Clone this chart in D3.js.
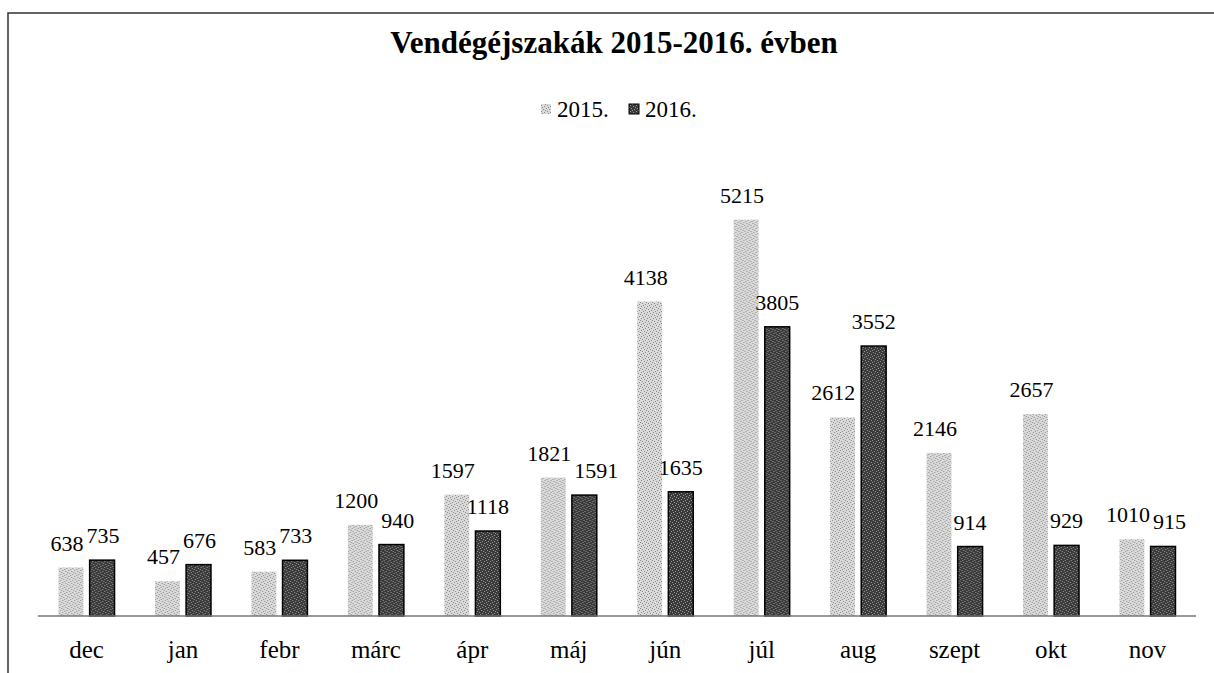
<!DOCTYPE html>
<html>
<head>
<meta charset="utf-8">
<script src="https://cdn.jsdelivr.net/npm/d3@7"></script>
<style>
  body { margin: 0; background: #fff; }
  svg { display: block; }
  text { font-family: "Liberation Serif", "Times New Roman", serif; fill: #000; }
</style>
</head>
<body>
<svg width="1214" height="673"></svg>
<script>
const months = ["dec", "jan", "febr", "márc", "ápr", "máj", "jún", "júl", "aug", "szept", "okt", "nov"];
const seriesNames = ["2015.", "2016."];
const values2015 = [638, 457, 583, 1200, 1597, 1821, 4138, 5215, 2612, 2146, 2657, 1010];
const values2016 = [735, 676, 733, 940, 1118, 1591, 1635, 3805, 3552, 914, 929, 915];

const svg = d3.select("svg"),
      baseY = 616;

const data = months.map((m, i) => ({month: m, values: [values2015[i], values2016[i]]}));

// frame (scan shows only top + left edges)
svg.append("path")
   .attr("d", "M8,673 V13 H1214")
   .attr("fill", "none")
   .attr("stroke", "#333")
   .attr("stroke-width", 1.5);

// speckled fills, like the printed chart
const defs = svg.append("defs");
function speckle(id, bg, dots, dotColor) {
  const p = defs.append("pattern")
                .attr("id", id)
                .attr("patternUnits", "userSpaceOnUse")
                .attr("width", 6).attr("height", 6);
  p.append("rect").attr("width", 6).attr("height", 6).attr("fill", bg);
  dots.forEach(d => p.append("rect")
                      .attr("x", d[0]).attr("y", d[1])
                      .attr("width", 1).attr("height", 1)
                      .attr("fill", dotColor));
}
speckle("p2015", "#dadada", [[0,0],[3,1],[1,3],[4,4],[2,5],[5,2]], "#8a8a8a");
speckle("p2016", "#3a3a3a", [[1,0],[4,1],[0,3],[3,4],[5,5],[2,2]], "#9a9a9a");
const fills = ["url(#p2015)", "url(#p2016)"];

const x0 = d3.scaleBand().domain(months).range([38.3, 1195.7]);
const x1 = d3.scaleBand().domain([0, 1]).range([x0.bandwidth() / 2 - 28, x0.bandwidth() / 2 + 28]).paddingInner(0.2);
const y = d3.scaleLinear().domain([0, 6000]).range([baseY, 160]);

// title
svg.append("text")
   .attr("x", 614).attr("y", 53)
   .attr("text-anchor", "middle")
   .attr("font-size", 31).attr("font-weight", "bold")
   .text("Vendégéjszakák 2015-2016. évben");

// legend
const legend = svg.append("g");
const legendX = [541, 629];
seriesNames.forEach((s, i) => {
  legend.append("rect")
        .attr("x", legendX[i]).attr("y", 104)
        .attr("width", 10).attr("height", 10)
        .attr("fill", fills[i])
        .attr("stroke", i === 1 ? "#000" : "none");
  legend.append("text")
        .attr("x", legendX[i] + 16).attr("y", 117)
        .attr("font-size", 23)
        .text(s);
});

// bars
const groups = svg.selectAll(".month")
                  .data(data)
                  .enter().append("g")
                  .attr("class", "month")
                  .attr("transform", d => `translate(${x0(d.month)},0)`);

groups.selectAll("rect")
      .data(d => d.values.map((v, i) => ({i, v})))
      .enter().append("rect")
      .attr("x", d => x1(d.i))
      .attr("width", x1.bandwidth())
      .attr("y", d => y(d.v))
      .attr("height", d => baseY - y(d.v))
      .attr("fill", d => fills[d.i])
      .attr("stroke", d => d.i === 1 ? "#000" : "none")
      .attr("stroke-width", 1.5);

groups.selectAll(".lbl")
      .data(d => d.values.map((v, i) => ({i, v})))
      .enter().append("text")
      .attr("class", "lbl")
      .attr("x", d => x1(d.i) + x1.bandwidth() / 2 - (d.i === 0 ? 4 : 0))
      .attr("y", d => y(d.v) - 17)
      .attr("text-anchor", "middle")
      .attr("font-size", 22)
      .text(d => d.v);

groups.each(function(d) {
  const lbls = d3.select(this).selectAll(".lbl").nodes();
  const l0 = d3.select(lbls[0]), l1 = d3.select(lbls[1]);
  // 2015 label sitting beside a taller 2016 bar: slide it left off the bar
  const a0 = lbls[0].getBBox(), clear = x1(1) - 6;
  if (y(d.values[1]) < a0.y + a0.height && a0.x + a0.width > clear) {
    l0.attr("x", +l0.attr("x") - (a0.x + a0.width - clear));
  }
  // push the 2016 label right when it would run into the 2015 one
  const a = lbls[0].getBBox(), b = lbls[1].getBBox();
  const vOverlap = a.y < b.y + b.height - 4 && b.y < a.y + a.height - 4;
  const gap = a.x + a.width + 3 - b.x;
  if (vOverlap && gap > 0) {
    l1.attr("x", +l1.attr("x") + gap);
  }
});

// x axis
const xAxis = svg.append("g")
                 .attr("transform", `translate(0,${baseY})`)
                 .call(d3.axisBottom(x0).tickSize(0).tickPadding(24));
xAxis.select(".domain").attr("stroke", "#777").attr("stroke-width", 1.5).attr("d", "M38,0H1196");
xAxis.selectAll("text")
     .attr("font-family", "Liberation Serif, serif")
     .attr("font-size", 25)
     .attr("fill", "#000");
</script>
</body>
</html>
